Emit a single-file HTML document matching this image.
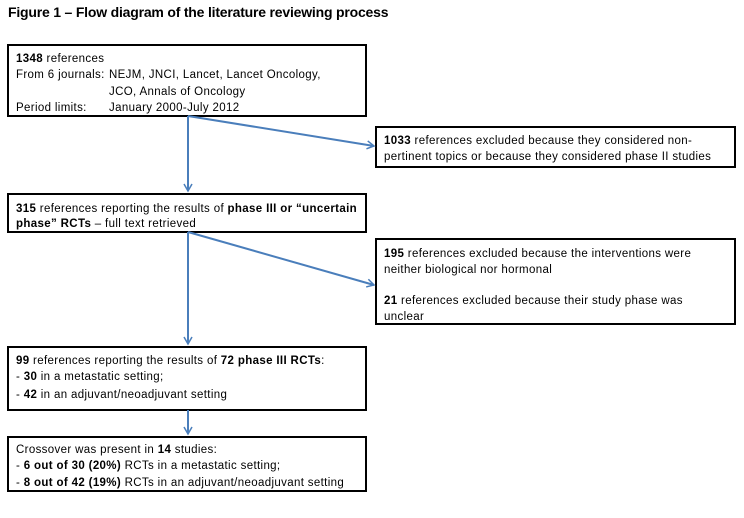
<!DOCTYPE html>
<html><head><style>
body{margin:0;background:#fff;}
svg{display:block;font-family:"Liberation Sans",sans-serif;}
text{font-size:11.5px;fill:#000;letter-spacing:0.35px;}
.b{font-weight:bold;}
</style></head><body>
<svg width="744" height="518" viewBox="0 0 744 518">
<defs><marker id="a" markerWidth="10" markerHeight="10" refX="8" refY="5" orient="auto" markerUnits="userSpaceOnUse"><path d="M1,1 L8,5 L1,9" fill="none" stroke="#4a7ebb" stroke-width="1.5"/></marker></defs>
<text x="8" y="17" class="b" style="font-size:14px;letter-spacing:-0.2px">Figure 1 – Flow diagram of the literature reviewing process</text>
<g fill="none" stroke="#000" stroke-width="2">
<rect x="8" y="45" width="358" height="71"/>
<rect x="8" y="194" width="358" height="38"/>
<rect x="376" y="127" width="359" height="40"/>
<rect x="376" y="239" width="359" height="85"/>
<rect x="8" y="347" width="358" height="63"/>
<rect x="8" y="437" width="358" height="54"/>
</g>
<g stroke="#4a7ebb" stroke-width="2" fill="none" marker-end="url(#a)">
<line x1="188" y1="116" x2="188" y2="191"/>
<line x1="188" y1="116" x2="374" y2="146"/>
<line x1="188" y1="232" x2="188" y2="344"/>
<line x1="188" y1="232" x2="374" y2="285"/>
<line x1="188" y1="410" x2="188" y2="434"/>
</g>
<text x="16" y="62"><tspan class="b">1348</tspan> references</text>
<text x="16" y="78">From 6 journals:</text><text x="109" y="78">NEJM, JNCI, Lancet, Lancet Oncology,</text>
<text x="109" y="95">JCO, Annals  of Oncology</text>
<text x="16" y="111">Period limits:</text><text x="109" y="111">January 2000-July 2012</text>
<text x="16" y="212"><tspan class="b">315</tspan> references reporting the results of <tspan class="b">phase III or “uncertain</tspan></text>
<text x="16" y="227"><tspan class="b">phase” RCTs</tspan> – full text retrieved</text>
<text x="384" y="144"><tspan class="b">1033</tspan> references excluded because they considered  non-</text>
<text x="384" y="160">pertinent topics or because they considered  phase II studies</text>
<text x="384" y="257"><tspan class="b">195</tspan> references excluded because the interventions  were</text>
<text x="384" y="273">neither biological nor hormonal</text>
<text x="384" y="304"><tspan class="b">21</tspan> references excluded because their study  phase was</text>
<text x="384" y="320">unclear</text>
<text x="16" y="364"><tspan class="b">99</tspan> references reporting the results of <tspan class="b">72 phase III RCTs</tspan>:</text>
<text x="16" y="380">- <tspan class="b">30</tspan> in a metastatic setting;</text>
<text x="16" y="398">- <tspan class="b">42</tspan> in an adjuvant/neoadjuvant  setting</text>
<text x="16" y="453">Crossover was present in <tspan class="b">14</tspan> studies:</text>
<text x="16" y="469">- <tspan class="b">6 out of 30 (20%)</tspan> RCTs in a metastatic setting;</text>
<text x="16" y="486">- <tspan class="b">8 out of 42 (19%)</tspan> RCTs in an adjuvant/neoadjuvant  setting</text>
</svg>
</body></html>
